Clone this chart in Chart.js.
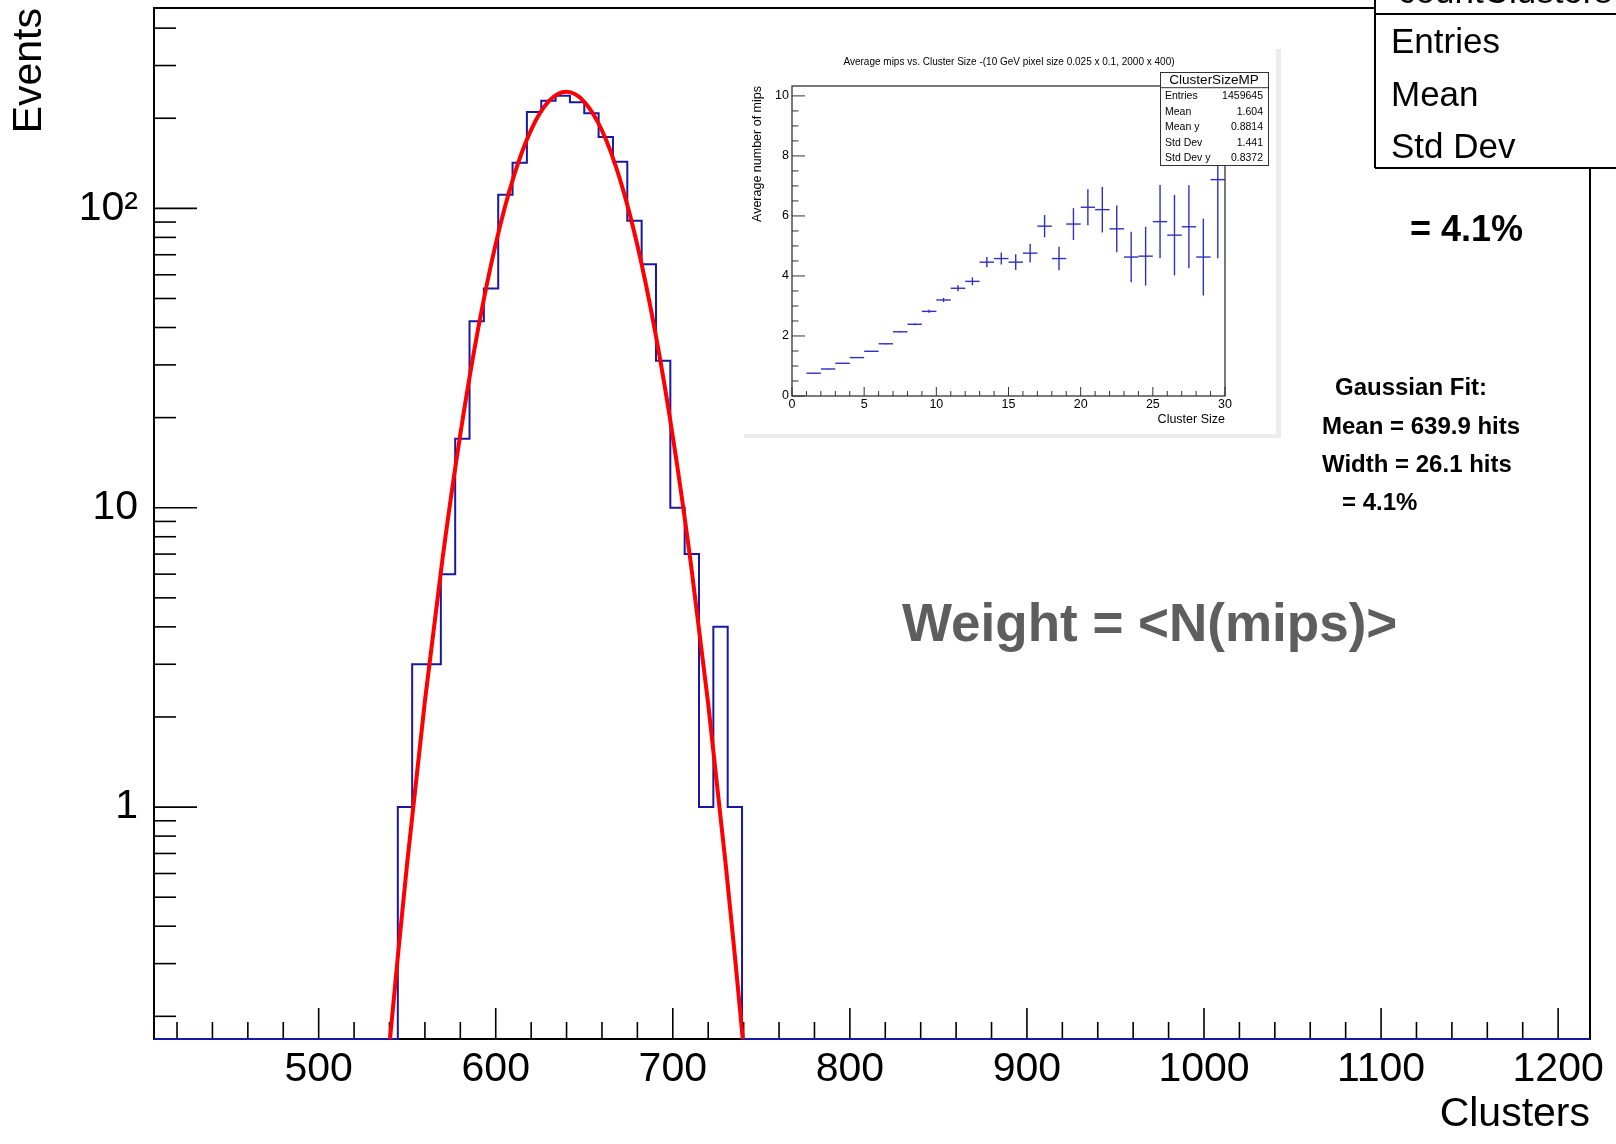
<!DOCTYPE html>
<html>
<head>
<meta charset="utf-8">
<script src="https://cdn.jsdelivr.net/npm/chart.js@4.4.0/dist/chart.umd.min.js"></script>
<style>
  html, body { margin: 0; padding: 0; background: #fff; }
  #wrap { position: relative; width: 1616px; height: 1144px; overflow: hidden; }
  #main { position: absolute; left: 0; top: 0; }
  #inset { position: absolute; left: 744px; top: 44px; }
</style>
</head>
<body>
<div id="wrap">
  <canvas id="main" width="1616" height="1144"></canvas>
  <canvas id="inset" width="540" height="396"></canvas>
</div>
<script>
// ---- main histogram (clusters per event), 8.1 wide bins ----
const binStart = 544.7;
const binWidth = 8.1;
const counts = [1, 3, 3, 6, 17, 42, 54, 111, 142, 210, 229, 238, 226, 208, 173, 143, 91, 65, 31, 10, 7, 1, 4, 1];

// red gaussian fit
const fitX = [535, 540, 545, 550, 560, 570, 580, 590, 600, 610, 620, 630, 640, 650, 660, 670, 680, 690, 700, 710, 720, 730, 735, 740, 745];
const fitY = [0.076, 0.161, 0.33, 0.652, 2.26, 6.79, 17.6, 39.4, 76.1, 127, 183, 228, 245, 227, 182, 126, 75.3, 38.8, 17.3, 6.65, 2.21, 0.633, 0.321, 0.157, 0.074];

const xMin = 407, xMax = 1218;
const yMin = 0.168, yMax = 467;
const xLabels = [500, 600, 700, 800, 900, 1000, 1100, 1200];
const yLabelValues = [1, 10, 100];
const yLabelText = ['1', '10', '10\u00B2'];

// ---- inset: average mips vs cluster size ----
const sizeLow = [1, 2, 3, 4, 5, 6, 7, 8, 9, 10, 11, 12, 13, 14, 15, 16, 17, 18, 19, 20, 21, 22, 23, 24, 25, 26, 27, 28, 29];
const avgMips = [0.76, 0.90, 1.09, 1.28, 1.49, 1.74, 2.14, 2.39, 2.82, 3.20, 3.59, 3.82, 4.46, 4.58, 4.46, 4.76, 5.66, 4.58, 5.73, 6.29, 6.21, 5.57, 4.63, 4.66, 5.81, 5.36, 5.64, 4.63, 7.21];
const mipsErr = [0.01, 0.01, 0.01, 0.01, 0.01, 0.02, 0.02, 0.03, 0.05, 0.07, 0.10, 0.13, 0.17, 0.20, 0.26, 0.31, 0.37, 0.39, 0.53, 0.60, 0.76, 0.78, 0.84, 0.98, 1.22, 1.34, 1.38, 1.28, 2.62];
const insetStatNames = ['Entries', 'Mean', 'Mean y', 'Std Dev', 'Std Dev y'];
const insetStatValues = ['1459645', '1.604', '0.8814', '1.441', '0.8372'];

const FONT = 'Liberation Sans, Arial, Helvetica, sans-serif';

function line(ctx, x0, y0, x1, y1) {
  ctx.beginPath(); ctx.moveTo(x0, y0); ctx.lineTo(x1, y1); ctx.stroke();
}

// keep the plot frame where the axes put it, no label overhang
function noOverhang(s) {
  s.paddingTop = 0; s.paddingBottom = 0; s.paddingLeft = 0; s.paddingRight = 0;
}

// histogram outline, empty bins sit on the axis minimum
const histPts = [{ x: xMin, y: yMin }];
counts.forEach((c, i) => histPts.push({ x: binStart + i * binWidth, y: c }));
histPts.push({ x: binStart + counts.length * binWidth, y: yMin });
histPts.push({ x: xMax, y: yMin });

const xTickValues = [];
for (let v = 420; v <= 1200; v += 20) xTickValues.push(v);
const yTickValues = [];
for (let e = -1; e <= 2; e++) {
  for (let m = 1; m <= 9; m++) {
    const v = Number((m * Math.pow(10, e)).toPrecision(6));
    if (v >= yMin && v <= yMax) yTickValues.push(v);
  }
}

const rootFrame = {
  id: 'rootFrame',
  beforeDatasetsDraw(chart) {
    const { ctx, chartArea: a, scales: { x, y } } = chart;
    ctx.save();
    ctx.strokeStyle = '#000';
    ctx.lineWidth = 2;
    ctx.strokeRect(a.left, a.top, a.right - a.left, a.bottom - a.top);
    ctx.lineWidth = 1.6;
    x.ticks.forEach(t => {
      const px = x.getPixelForValue(t.value);
      const len = t.value % 100 === 0 ? 31 : 17;
      line(ctx, px, a.bottom, px, a.bottom - len);
    });
    y.ticks.forEach(t => {
      const py = y.getPixelForValue(t.value);
      const lg = Math.log10(t.value);
      const len = Math.abs(lg - Math.round(lg)) < 1e-6 ? 43 : 22;
      line(ctx, a.left, py, a.left + len, py);
    });
    ctx.restore();
  },
  afterDraw(chart) {
    const ctx = chart.ctx;
    ctx.save();
    // stats box, top right (cut by the picture edge)
    ctx.fillStyle = '#fff';
    ctx.fillRect(1375, 0, 241, 168);
    ctx.strokeStyle = '#000';
    ctx.lineWidth = 2;
    line(ctx, 1375, 0, 1375, 168);
    line(ctx, 1375, 168, 1616, 168);
    line(ctx, 1375, 14, 1616, 14);
    ctx.fillStyle = '#000';
    ctx.textAlign = 'left';
    ctx.textBaseline = 'alphabetic';
    ctx.font = '35px ' + FONT;
    ctx.fillText('countClusters', 1398, 3);
    ctx.fillText('Entries', 1391, 53);
    ctx.fillText('Mean', 1391, 106);
    ctx.fillText('Std Dev', 1391, 158);

    ctx.font = 'bold 36px ' + FONT;
    ctx.fillText('= 4.1%', 1410, 241);

    ctx.font = 'bold 24px ' + FONT;
    ctx.fillText('Gaussian Fit:', 1335, 395);
    ctx.fillText('Mean = 639.9 hits', 1322, 434);
    ctx.fillText('Width = 26.1 hits', 1322, 472);
    ctx.fillText('= 4.1%', 1342, 510);

    ctx.fillStyle = '#5e5e5e';
    ctx.font = 'bold 53px ' + FONT;
    ctx.fillText('Weight = <N(mips)>', 902, 641);
    ctx.restore();
  }
};

new Chart(document.getElementById('main'), {
  type: 'line',
  data: {
    datasets: [
      {
        label: 'gaus',
        data: fitX.map((x, i) => ({ x: x, y: fitY[i] })),
        borderColor: '#ff0000',
        borderWidth: 4,
        pointRadius: 0,
        cubicInterpolationMode: 'monotone',
        fill: false,
        clip: 0
      },
      {
        label: 'countClusters',
        data: histPts,
        borderColor: '#1818a4',
        borderWidth: 2,
        pointRadius: 0,
        stepped: true,
        fill: false,
        clip: 1
      }
    ]
  },
  options: {
    responsive: false,
    animation: false,
    devicePixelRatio: 1,
    layout: { padding: { left: 0, top: 8, right: 26, bottom: 0 } },
    plugins: { legend: { display: false }, tooltip: { enabled: false } },
    scales: {
      x: {
        type: 'linear',
        min: xMin,
        max: xMax,
        grid: { display: false, drawTicks: false },
        border: { display: false },
        afterBuildTicks: s => { s.ticks = xTickValues.map(v => ({ value: v })); },
        afterFit: s => { s.height = 105; noOverhang(s); },
        ticks: {
          autoSkip: false,
          maxRotation: 0,
          padding: 6,
          color: '#000',
          font: { family: FONT, size: 41 },
          callback: v => (xLabels.includes(v) ? String(v) : '')
        },
        title: {
          display: true,
          text: 'Clusters',
          align: 'end',
          color: '#000',
          font: { family: FONT, size: 41 },
          padding: { top: 0, bottom: 5 }
        }
      },
      y: {
        type: 'logarithmic',
        min: yMin,
        max: yMax,
        grid: { display: false, drawTicks: false },
        border: { display: false },
        afterBuildTicks: s => { s.ticks = yTickValues.map(v => ({ value: v })); },
        afterFit: s => { s.width = 154; noOverhang(s); },
        ticks: {
          autoSkip: false,
          padding: 16,
          color: '#000',
          font: { family: FONT, size: 41 },
          callback: v => {
            const k = yLabelValues.indexOf(v);
            return k >= 0 ? yLabelText[k] : '';
          }
        },
        title: {
          display: true,
          text: 'Events',
          align: 'end',
          color: '#000',
          font: { family: FONT, size: 41 },
          padding: { top: 5, bottom: 0 }
        }
      }
    }
  },
  plugins: [rootFrame]
});

// ---- inset chart ----
const insetDecor = {
  id: 'insetDecor',
  beforeDraw(chart) {
    const ctx = chart.ctx;
    ctx.save();
    ctx.fillStyle = '#fff';
    ctx.fillRect(0, 0, 537, 394);
    ctx.fillStyle = '#ececec';
    ctx.fillRect(532, 5, 5, 389);
    ctx.fillRect(0, 390, 537, 4);
    ctx.restore();
  },
  beforeDatasetsDraw(chart) {
    const { ctx, chartArea: a, scales: { x, y } } = chart;
    ctx.save();
    ctx.strokeStyle = '#333';
    ctx.lineWidth = 1.3;
    ctx.strokeRect(a.left, a.top, a.right - a.left, a.bottom - a.top);
    ctx.lineWidth = 1;
    x.ticks.forEach(t => {
      const px = x.getPixelForValue(t.value);
      line(ctx, px, a.bottom, px, a.bottom - (t.value % 5 === 0 ? 9 : 5));
    });
    y.ticks.forEach(t => {
      const py = y.getPixelForValue(t.value);
      line(ctx, a.left, py, a.left + (t.value % 2 === 0 ? 13 : 6.5), py);
    });
    ctx.restore();
  },
  afterDatasetsDraw(chart) {
    const { ctx, chartArea: a, scales: { x, y } } = chart;
    ctx.save();
    ctx.beginPath();
    ctx.rect(a.left, a.top, a.right - a.left, a.bottom - a.top);
    ctx.clip();
    ctx.strokeStyle = '#3030c0';
    ctx.lineWidth = 1.4;
    sizeLow.forEach((lo, i) => {
      const x0 = x.getPixelForValue(lo);
      const x1 = x.getPixelForValue(lo + 1);
      const xc = x.getPixelForValue(lo + 0.5);
      const yc = y.getPixelForValue(avgMips[i]);
      line(ctx, x0, yc, x1, yc);
      line(ctx, xc, y.getPixelForValue(avgMips[i] + mipsErr[i]), xc, y.getPixelForValue(avgMips[i] - mipsErr[i]));
    });
    ctx.restore();
  },
  afterDraw(chart) {
    const ctx = chart.ctx;
    ctx.save();
    ctx.fillStyle = '#000';
    ctx.font = '10px ' + FONT;
    ctx.textAlign = 'center';
    ctx.textBaseline = 'middle';
    ctx.fillText('Average mips vs. Cluster Size -(10 GeV pixel size 0.025 x 0.1, 2000 x 400)', 265, 18);

    // stats box
    ctx.fillStyle = '#fff';
    ctx.fillRect(416, 28, 108, 94);
    ctx.strokeStyle = '#333';
    ctx.lineWidth = 1;
    ctx.strokeRect(416.5, 28.5, 108, 93);
    line(ctx, 416.5, 43.7, 524.5, 43.7);
    ctx.fillStyle = '#000';
    ctx.font = '13.5px ' + FONT;
    ctx.fillText('ClusterSizeMP', 470, 36.5);
    ctx.font = '10.5px ' + FONT;
    const rowY = [52, 67.7, 83.3, 99, 114.3];
    insetStatNames.forEach((n, i) => {
      ctx.textAlign = 'left';
      ctx.fillText(n, 421, rowY[i]);
      ctx.textAlign = 'right';
      ctx.fillText(insetStatValues[i], 519, rowY[i]);
    });
    ctx.restore();
  }
};

const xInsetTicks = [];
for (let v = 0; v <= 30; v++) xInsetTicks.push(v);
const yInsetTicks = [];
for (let v = 0; v <= 10; v += 0.5) yInsetTicks.push(v);

new Chart(document.getElementById('inset'), {
  type: 'scatter',
  data: {
    datasets: [{
      label: 'ClusterSizeMP',
      data: sizeLow.map((lo, i) => ({ x: lo + 0.5, y: avgMips[i] })),
      pointRadius: 0,
      showLine: false
    }]
  },
  options: {
    responsive: false,
    animation: false,
    devicePixelRatio: 1,
    layout: { padding: { left: 0, top: 42, right: 59, bottom: 0 } },
    plugins: { legend: { display: false }, tooltip: { enabled: false } },
    scales: {
      x: {
        type: 'linear',
        min: 0,
        max: 30,
        grid: { display: false, drawTicks: false },
        border: { display: false },
        afterBuildTicks: s => { s.ticks = xInsetTicks.map(v => ({ value: v })); },
        afterFit: s => { s.height = 44; noOverhang(s); },
        ticks: {
          autoSkip: false,
          maxRotation: 0,
          padding: 1,
          color: '#000',
          font: { family: FONT, size: 12.5 },
          callback: v => (v % 5 === 0 ? String(v) : '')
        },
        title: {
          display: true,
          text: 'Cluster Size',
          align: 'end',
          color: '#000',
          font: { family: FONT, size: 12.5 },
          padding: { top: 0, bottom: 13 }
        }
      },
      y: {
        type: 'linear',
        min: 0,
        max: 10.33,
        grid: { display: false, drawTicks: false },
        border: { display: false },
        afterBuildTicks: s => { s.ticks = yInsetTicks.map(v => ({ value: v })); },
        afterFit: s => { s.width = 48; noOverhang(s); },
        ticks: {
          autoSkip: false,
          padding: 3,
          color: '#000',
          font: { family: FONT, size: 12.5 },
          callback: v => (v % 2 === 0 ? String(v) : '')
        },
        title: {
          display: true,
          text: 'Average number of mips',
          align: 'end',
          color: '#000',
          font: { family: FONT, size: 12.5 },
          padding: { top: 6, bottom: 0 }
        }
      }
    }
  },
  plugins: [insetDecor]
});
</script>
</body>
</html>
